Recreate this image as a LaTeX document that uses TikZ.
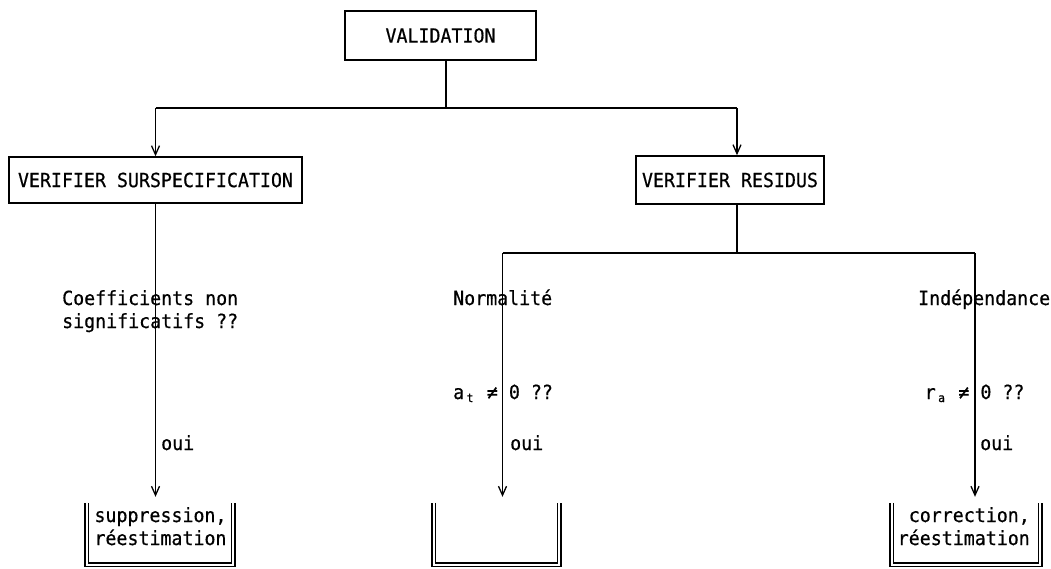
\documentclass[tikz,border=0pt]{standalone}
\usepackage{fontspec}
\setmainfont[FakeStretch=0.937, FakeBold=0.6]{DejaVu Sans Mono}
\usetikzlibrary{arrows.meta}
% small lowered letter occupying one full monospaced cell
\newcommand{\lowch}[1]{\makebox[0.602em][c]{\raisebox{-3pt}{\fontsize{12}{12}\selectfont #1}}}

\begin{document}
\begin{tikzpicture}[x=1pt,y=-1pt,
  every node/.style={font=\fontsize{19.5}{23}\selectfont, inner sep=0pt},
  link/.style={line width=1.5pt},
  flow/.style={link, -{Straight Barb[length=9pt,width=8pt,line width=1.3pt]}},
  stage/.style={draw, line width=1.5pt, rectangle, inner sep=0pt},
  tray/.style={line width=1.2pt, double, double distance=2.4pt},
  hole/.style={rectangle, minimum height=61.5pt}
]
\useasboundingbox (0,0) rectangle (1051,568);

% main stages
\node[stage, minimum width=191pt, minimum height=49pt] (val) at (440.5,35.5) {VALIDATION};
\node[stage, minimum width=293pt, minimum height=46pt] (sur) at (155.5,180) {VERIFIER SURSPECIFICATION};
\node[stage, minimum width=188pt, minimum height=48pt] (res) at (730,180) {VERIFIER RESIDUS};

% open trays at the bottom
\node[hole, minimum width=146pt] (b1) at (160,533.75) {};
\node[hole, minimum width=125pt] (b2) at (496.5,533.75) {};
\node[hole, minimum width=148pt] (b3) at (966,533.75) {};
\foreach \b in {b1,b2,b3}
  \draw[tray] (\b.north west) -- (\b.south west) -- (\b.south east) -- (\b.north east);

% first split
\coordinate (j0) at (446,108);
\coordinate (jl) at (155.5,108);
\coordinate (jr) at (737,108);
\draw[link] (val.south -| j0) -- (j0);
\draw[link] (jl) -- (jr);
\draw[flow] (jl) -- (jl |- sur.north);
\draw[flow] (jr) -- (jr |- res.north);

% left branch
\draw[flow, shorten >=6pt] (sur.south) -- (sur.south |- b1.north);

% residual branches
\coordinate (rb) at (737,253);
\coordinate (nl) at (502.5,253);
\coordinate (nr) at (975,253);
\draw[link] (res.south -| rb) -- (rb);
\draw[link] (nl) -- (nr);
\draw[flow, shorten >=6pt] (nl) -- (nl |- b2.north);
\draw[flow, shorten >=6pt] (nr) -- (nr |- b3.north);

% labels (multi-line nodes: base is the last line)
\node[align=left, anchor=base west] (coef) at (62,328) {Coefficients non\\significatifs ??};
\node[anchor=base west] (norm) at (453,305) {Normalité};
\node[anchor=base west] (indep) at (918,305) {Indépendance};
\node[anchor=base west] (qa) at (453,399) {a\lowch{t} ≠ 0 ??};
\node[anchor=base west] (qr) at (924.5,399) {r\lowch{a} ≠ 0 ??};
\node[anchor=base west] (oui1) at (161,450) {oui};
\node[anchor=base west] (oui2) at (510,450) {oui};
\node[anchor=base west] (oui3) at (980,450) {oui};

% tray contents
\node[align=center, anchor=base] (t1) at (160.5,545) {suppression,\\réestimation};
\node[align=right, anchor=base east] (t3) at (1030,545) {correction,\\réestimation};
\end{tikzpicture}
\end{document}
